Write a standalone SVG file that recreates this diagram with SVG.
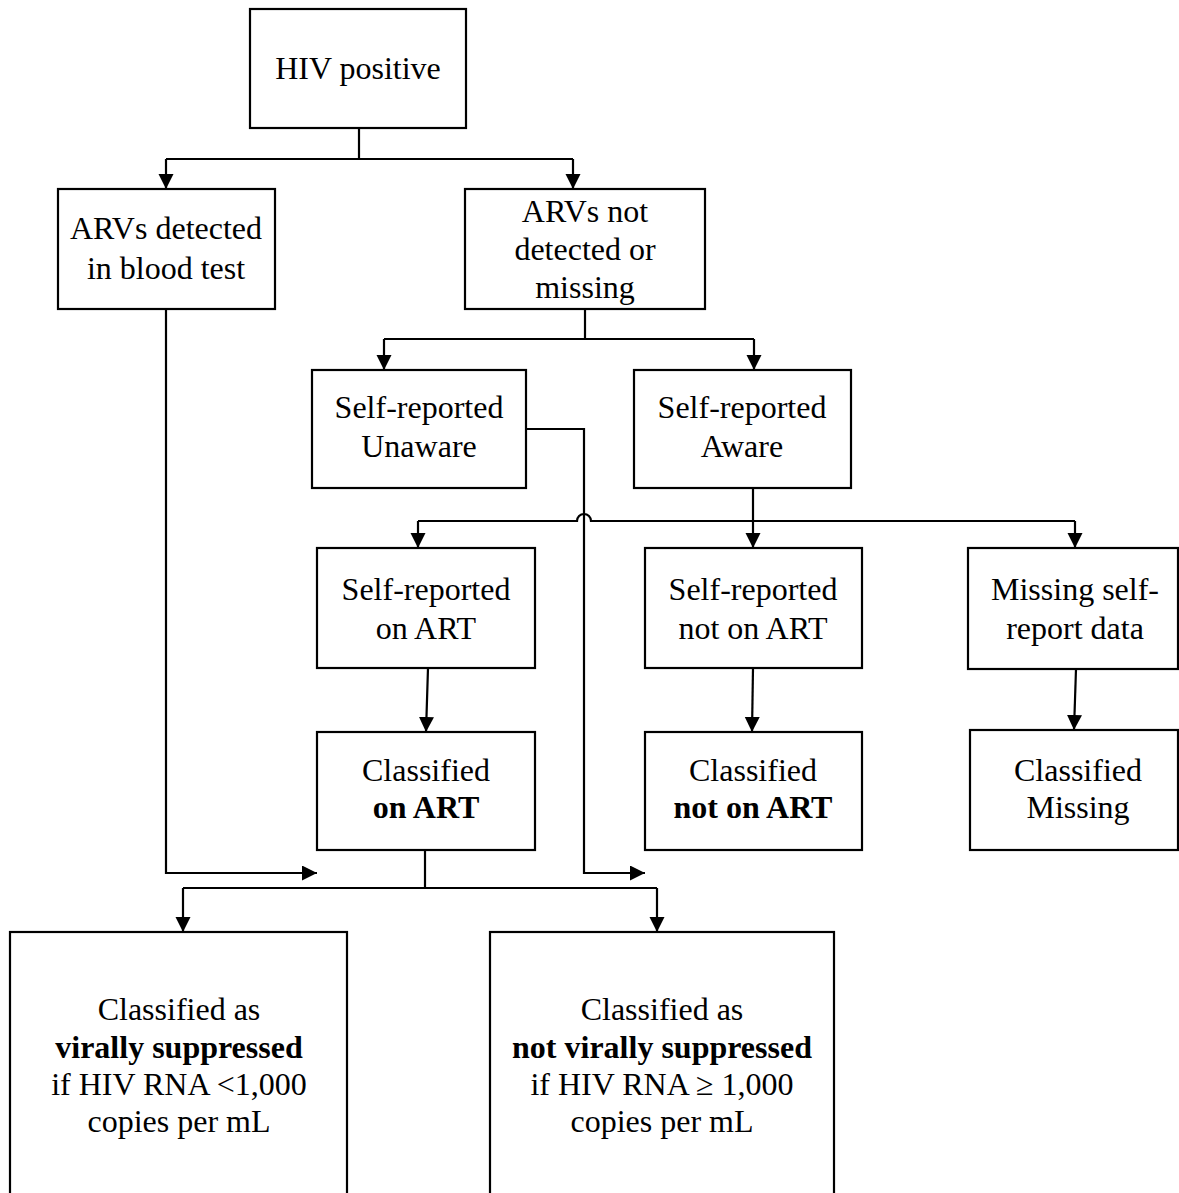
<svg xmlns="http://www.w3.org/2000/svg" width="1179" height="1193" viewBox="0 0 1179 1193">
<style>
.box{fill:#fff;stroke:#000;stroke-width:2.2}
text{font-family:'Liberation Serif','DejaVu Serif',serif;font-size:32px;fill:#000;text-anchor:middle}
.b{font-weight:bold}
.c{fill:none;stroke:#000;stroke-width:2.2}
</style>
<defs>
<marker id="ah" markerUnits="userSpaceOnUse" markerWidth="16" markerHeight="16" refX="15" refY="7.5" orient="auto">
<path d="M0,0 L15,7.5 L0,15 Z" fill="#000"/>
</marker>
</defs>
<rect width="1179" height="1193" fill="#fff"/>
<g id="connectors">
<path class="c" d="M359,128 V159"/>
<path class="c" d="M166,159 H573"/>
<path class="c" d="M166,159 V189" marker-end="url(#ah)"/>
<path class="c" d="M573,159 V189" marker-end="url(#ah)"/>
<path class="c" d="M166,309 V873 H317" marker-end="url(#ah)"/>
<path class="c" d="M585,309 V339"/>
<path class="c" d="M384,339 H754"/>
<path class="c" d="M384,339 V370" marker-end="url(#ah)"/>
<path class="c" d="M754,339 V370" marker-end="url(#ah)"/>
<path class="c" d="M526,429 H584 V873 H645" marker-end="url(#ah)"/>
<path class="c" d="M418,521 H577 A7,7 0 0 1 591,521 H1075"/>
<path class="c" d="M418,521 V548" marker-end="url(#ah)"/>
<path class="c" d="M753,488 V548" marker-end="url(#ah)"/>
<path class="c" d="M1075,521 V548" marker-end="url(#ah)"/>
<path class="c" d="M428,668 L426,732" marker-end="url(#ah)"/>
<path class="c" d="M753,668 L752,732" marker-end="url(#ah)"/>
<path class="c" d="M1076,669 L1074,730" marker-end="url(#ah)"/>
<path class="c" d="M425,850 V888"/>
<path class="c" d="M183,888 H657"/>
<path class="c" d="M183,888 V932" marker-end="url(#ah)"/>
<path class="c" d="M657,888 V932" marker-end="url(#ah)"/>
</g>
<g font-family="Liberation Serif, DejaVu Serif, serif" font-size="32" text-anchor="middle">
<g id="hiv"><rect class="box" x="250" y="9" width="216" height="119"/><text x="358" y="79">HIV positive</text></g>
<g id="arv_det"><rect class="box" x="58" y="189" width="217" height="120"/><text x="166" y="239">ARVs detected</text><text x="166" y="279">in blood test</text></g>
<g id="arv_not"><rect class="box" x="465" y="189" width="240" height="120"/><text x="585" y="222">ARVs not</text><text x="585" y="260">detected or</text><text x="585" y="298">missing</text></g>
<g id="unaware"><rect class="box" x="312" y="370" width="214" height="118"/><text x="419" y="418">Self-reported</text><text x="419" y="457">Unaware</text></g>
<g id="aware"><rect class="box" x="634" y="370" width="217" height="118"/><text x="742" y="418">Self-reported</text><text x="742" y="457">Aware</text></g>
<g id="sr_on"><rect class="box" x="317" y="548" width="218" height="120"/><text x="426" y="600">Self-reported</text><text x="426" y="639">on ART</text></g>
<g id="sr_not"><rect class="box" x="645" y="548" width="217" height="120"/><text x="753" y="600">Self-reported</text><text x="753" y="639">not on ART</text></g>
<g id="sr_missing"><rect class="box" x="968" y="548" width="210" height="121"/><text x="1075" y="600">Missing self-</text><text x="1075" y="639">report data</text></g>
<g id="cl_on"><rect class="box" x="317" y="732" width="218" height="118"/><text x="426" y="781">Classified</text><text class="b" x="426" y="818">on ART</text></g>
<g id="cl_not"><rect class="box" x="645" y="732" width="217" height="118"/><text x="753" y="781">Classified</text><text class="b" x="753" y="818">not on ART</text></g>
<g id="cl_missing"><rect class="box" x="970" y="730" width="208" height="120"/><text x="1078" y="781">Classified</text><text x="1078" y="818">Missing</text></g>
<g id="vs"><rect class="box" x="10" y="932" width="337" height="280"/><text x="179" y="1020">Classified as</text><text class="b" x="179" y="1058">virally suppressed</text><text x="179" y="1095">if HIV RNA &lt;1,000</text><text x="179" y="1132">copies per mL</text></g>
<g id="nvs"><rect class="box" x="490" y="932" width="344" height="280"/><text x="662" y="1020">Classified as</text><text class="b" x="662" y="1058">not virally suppressed</text><text x="662" y="1095">if HIV RNA ≥ 1,000</text><text x="662" y="1132">copies per mL</text></g>
</g>
</svg>
